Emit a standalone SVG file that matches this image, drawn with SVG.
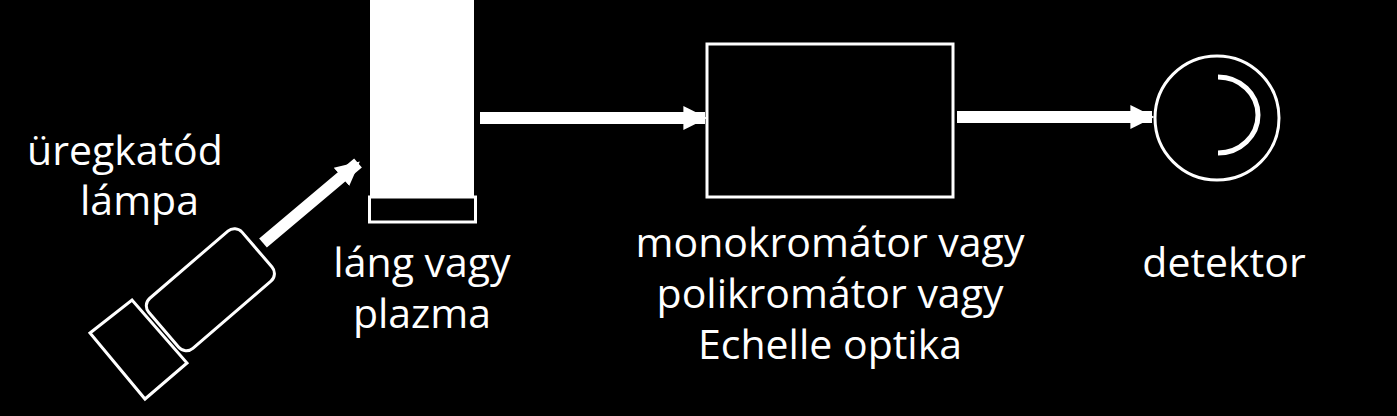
<svg xmlns="http://www.w3.org/2000/svg" width="1397" height="416" viewBox="0 0 1397 416">
<style>
text{font-family:"Open Sans","Liberation Sans",sans-serif;font-size:41px;fill:#fff}
.o{fill:none;stroke:#fff;stroke-width:3}
.c{stroke:#fff;stroke-width:12;fill:none}
</style>
<defs><marker id="a" viewBox="0 0 10 10" refX="9" refY="5" markerWidth="2" markerHeight="2.4" orient="auto" markerUnits="strokeWidth"><path d="M0,0L10,5L0,10z" fill="#fff"/></marker></defs>
<rect width="1397" height="416" fill="#000"/>
<g id="lamp">
<rect class="o" x="-61" y="-33" width="123" height="66" rx="10" transform="translate(210,290) rotate(-40.7)"/>
<polygon class="o" points="90,333 132,300 187,363 145,399"/>
</g>
<g id="flame">
<rect x="370" y="0" width="104" height="196" fill="#fff"/>
<rect x="369.5" y="197" width="106" height="25" fill="#000" stroke="#fff" stroke-width="3"/>
</g>
<g id="mono"><rect class="o" x="707" y="44" width="246" height="153"/></g>
<g id="det">
<circle class="o" cx="1217" cy="118" r="62" stroke-width="2"/>
<path d="M1218,77 A40,38 0 0 1 1218,153" fill="none" stroke="#fff" stroke-width="5"/>
</g>
<g id="connectors">
<line class="c" x1="263" y1="243" x2="358" y2="163" marker-end="url(#a)"/>
<line class="c" x1="480" y1="118" x2="705" y2="118" marker-end="url(#a)"/>
<line class="c" x1="957" y1="117" x2="1152" y2="117" marker-end="url(#a)"/>
</g>
<text x="27" y="165">üregkatód</text>
<text x="80" y="215">lámpa</text>
<text x="422" y="277" text-anchor="middle">láng vagy</text>
<text x="422" y="328" text-anchor="middle">plazma</text>
<text x="830" y="257" text-anchor="middle">monokromátor vagy</text>
<text x="830" y="308" text-anchor="middle">polikromátor vagy</text>
<text x="830" y="359" text-anchor="middle">Echelle optika</text>
<text x="1224" y="277" text-anchor="middle">detektor</text>
</svg>
